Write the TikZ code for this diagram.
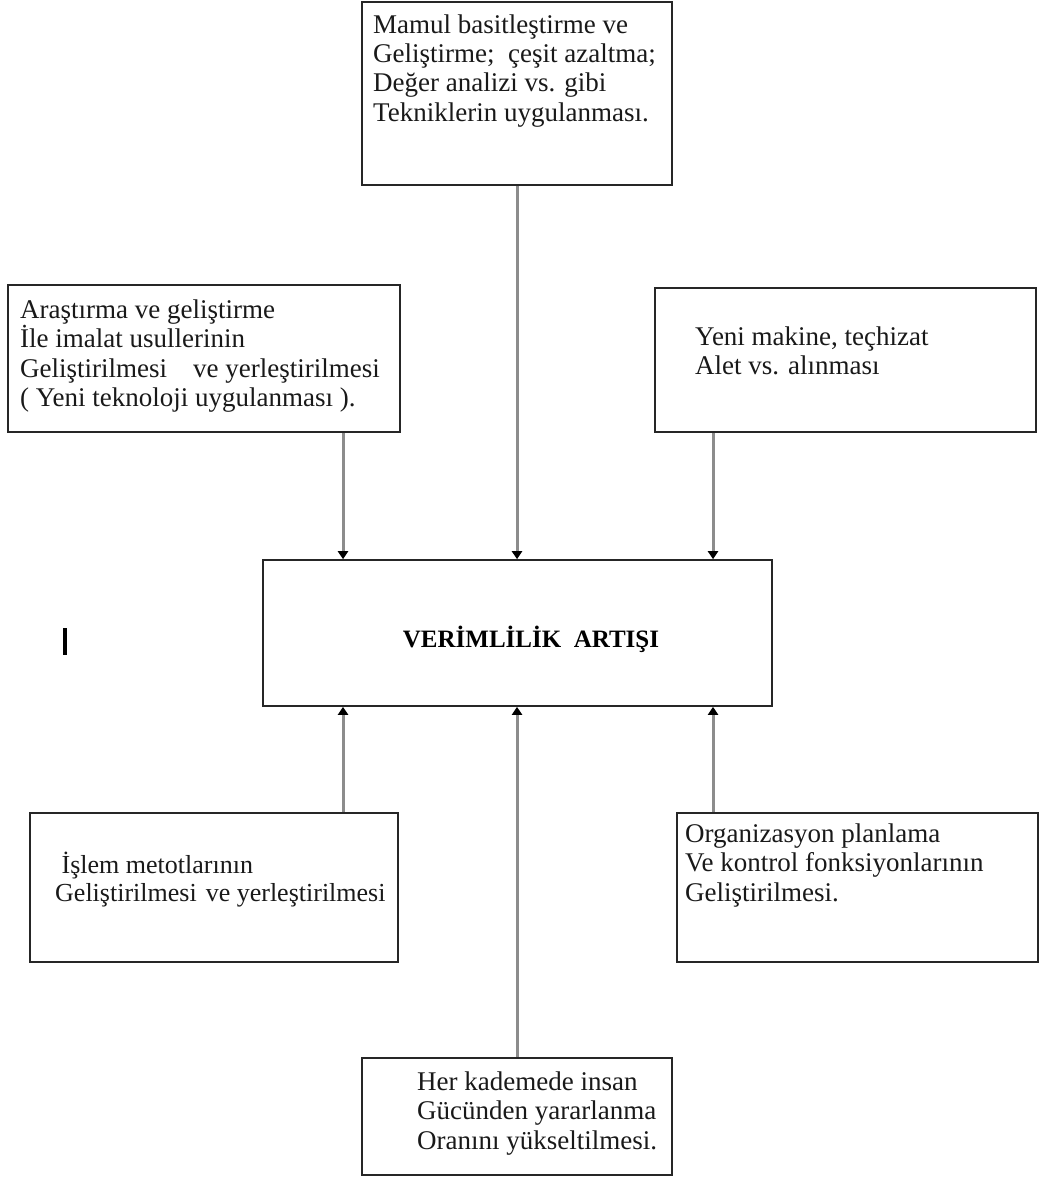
\documentclass[tikz,border=0pt]{standalone}
\usepackage{fontspec}
\setmainfont{Liberation Serif}
\usetikzlibrary{arrows.meta}

\tikzset{
  kutu/.style={draw=black!85, line width=1.6pt, inner sep=0pt},
  yazi/.style={anchor=base west, align=left, inner sep=0pt, text=black!90,
    font=\fontsize{27}{29.5}\selectfont},
  ok/.style={draw=black!45, line width=3pt,
    -{Triangle[width=10pt,length=8pt,color=black]}}
}

\begin{document}
\begin{tikzpicture}[x=1pt,y=-1pt]
\useasboundingbox (0,0) rectangle (1041,1180);

% kutular
\node[kutu, minimum width=310pt, minimum height=183pt] (mamul) at (517,93.5) {};
\node[kutu, minimum width=392pt, minimum height=147pt] (arge) at (204,358.5) {};
\node[kutu, minimum width=381pt, minimum height=144pt] (makine) at (845.5,360) {};
\node[kutu, minimum width=509pt, minimum height=146pt] (verim) at (517.5,633) {};
\node[kutu, minimum width=368pt, minimum height=149pt] (islem) at (214,887.5) {};
\node[kutu, minimum width=361pt, minimum height=149pt] (organ) at (857.5,887.5) {};
\node[kutu, minimum width=310pt, minimum height=117pt] (insan) at (517,1116.5) {};

% yazilar (base = son satir)
\node[yazi] (mamul-t) at (373,121.5) {Mamul basitleştirme ve\\Geliştirme;\ \ çeşit\ azaltma;\\Değer\ analizi vs. gibi\\Tekniklerin\ uygulanması.};
\node[yazi] (arge-t) at (20,406.5) {Araştırma ve geliştirme\\İle imalat usullerinin\\Geliştirilmesi\hspace{26pt}ve yerleştirilmesi\\( Yeni teknoloji uygulanması ).};
\node[yazi] (makine-t) at (695,374.5) {Yeni makine, teçhizat\\Alet vs. alınması};
\node[font=\fontsize{25}{29}\selectfont\bfseries, anchor=base, inner sep=0pt] (verim-t) at (531,647) {VERİMLİLİK\ \ ARTIŞI};
\node[yazi, font=\fontsize{26}{28}\selectfont] (islem-t) at (55,901) {\ İşlem metotlarının\\Geliştirilmesi\hspace{9pt}ve yerleştirilmesi};
\node[yazi] (organ-t) at (685,901) {Organizasyon planlama\\Ve kontrol fonksiyonlarının\\Geliştirilmesi.};
\node[yazi] (insan-t) at (417,1149) {Her kademede insan\\Gücünden yararlanma\\Oranını yükseltilmesi.};

% oklar
\coordinate (solK) at (343,0);
\coordinate (ortaK) at (517,0);
\coordinate (sagK) at (713,0);
\draw[ok] (arge.south -| solK) -- (verim.north -| solK);
\draw[ok] (mamul.south -| ortaK) -- (verim.north -| ortaK);
\draw[ok] (makine.south -| sagK) -- (verim.north -| sagK);
\draw[ok] (islem.north -| solK) -- (verim.south -| solK);
\draw[ok] (insan.north -| ortaK) -- (verim.south -| ortaK);
\draw[ok] (organ.north -| sagK) -- (verim.south -| sagK);

\draw[line width=4pt] (65,628) -- (65,655);
\end{tikzpicture}
\end{document}
